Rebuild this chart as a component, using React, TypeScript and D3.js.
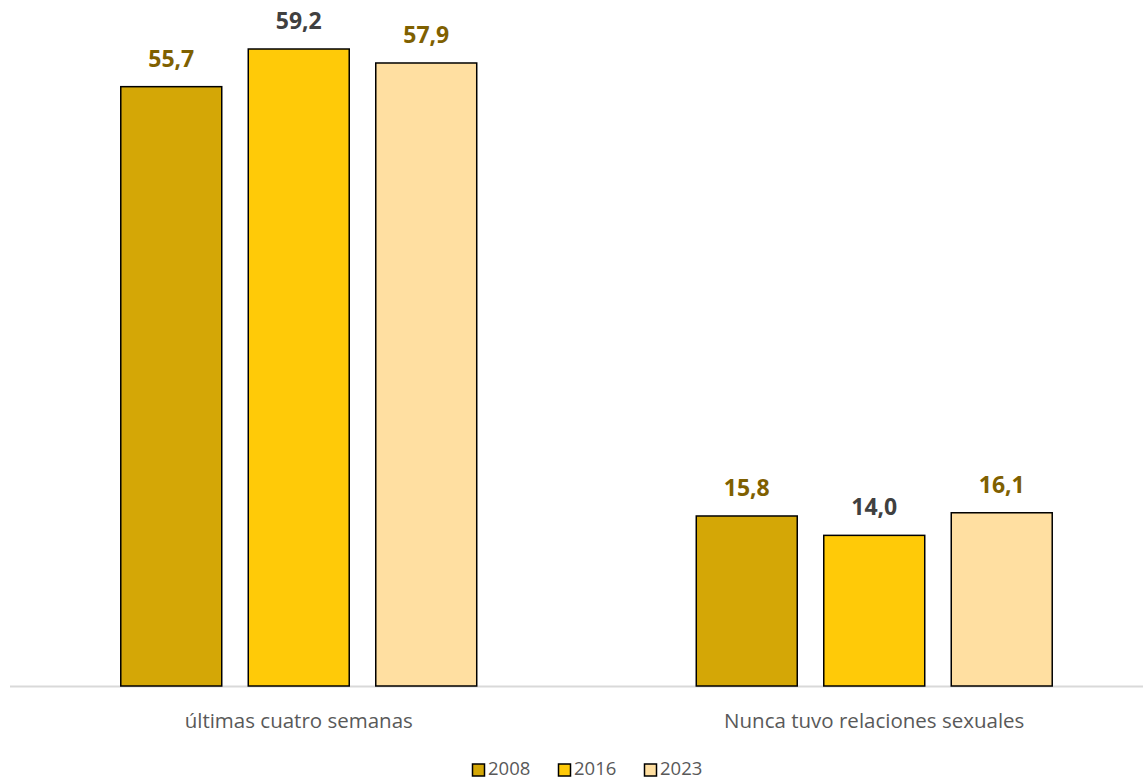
import React from "react";
import * as d3 from "d3";

const categories = ["últimas cuatro semanas", "Nunca tuvo relaciones sexuales"];
const seriesNames = ["2008", "2016", "2023"];
const values2008 = [55.7, 15.8];
const values2016 = [59.2, 14.0];
const values2023 = [57.9, 16.1];
const colors = ["#D4A706", "#FFCA08", "#FFDFA1"];
const labelColors = ["#7F6000", "#404040", "#7F6000"];

const W = 1143;
const H = 781;

export default function App() {
  const series = [values2008, values2016, values2023];
  const baseline = 686;
  const x0 = d3.scaleBand<string>().domain(categories).range([11, 1162]).paddingInner(0).paddingOuter(0);
  const x1 = d3
    .scaleBand<string>()
    .domain(seriesNames)
    .range([0, x0.bandwidth()])
    .paddingInner(0.208)
    .paddingOuter(0.861);
  const y = d3.scaleLinear().domain([0, 60]).range([baseline, baseline - 60 * 10.76]);
  const fmt = (v: number) => v.toFixed(1).replace(".", ",");
  const font = "'Open Sans', sans-serif";

  const legendStart = 472;
  const legendStep = 86;

  return (
    <svg width={W} height={H} style={{ position: "absolute", left: 0, top: 0, background: "#fff" }}>
      <line x1={10} x2={W} y1={baseline + 0.5} y2={baseline + 0.5} stroke="#D9D9D9" strokeWidth={2} />
      {categories.map((c, ci) => (
        <g key={c} transform={`translate(${x0(c)},0)`}>
          {seriesNames.map((s, si) => {
            const v = series[si][ci];
            const bx = x1(s)!;
            const bw = x1.bandwidth();
            return (
              <g key={s}>
                <rect
                  x={bx}
                  y={y(v)}
                  width={bw}
                  height={baseline - y(v)}
                  fill={colors[si]}
                  stroke="#000"
                  strokeWidth={1.5}
                />
                <text
                  x={bx + bw / 2}
                  y={y(v) - 20}
                  textAnchor="middle"
                  fontFamily={font}
                  fontWeight="bold"
                  fontSize={23}
                  fill={labelColors[si]}
                >
                  {fmt(v)}
                </text>
              </g>
            );
          })}
          <text
            x={x0.bandwidth() / 2}
            y={728}
            textAnchor="middle"
            fontFamily={font}
            fontSize={20.5}
            fill="#595959"
          >
            {c}
          </text>
        </g>
      ))}
      {seriesNames.map((s, i) => (
        <g key={s} transform={`translate(${legendStart + legendStep * i},0)`}>
          <rect x={0.5} y={764} width={12} height={12} fill={colors[i]} stroke="#000" strokeWidth={1.5} />
          <text x={16} y={775} fontFamily={font} fontSize={18.5} fill="#595959">
            {s}
          </text>
        </g>
      ))}
    </svg>
  );
}
